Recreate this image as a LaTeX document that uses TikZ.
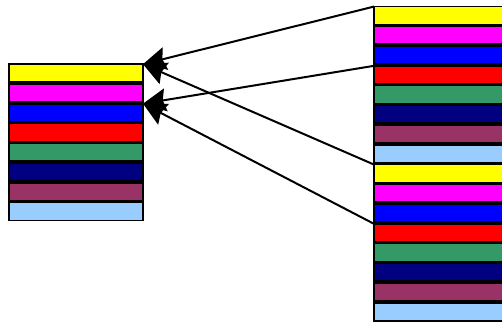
\documentclass[tikz,border=0pt]{standalone}
\usepackage{tikz}
\usetikzlibrary{arrows.meta}
\usepackage{xcolor}
\definecolor{bandyellow}{RGB}{255,255,0}
\definecolor{bandpink}{RGB}{255,0,255}
\definecolor{bandblue}{RGB}{0,0,255}
\definecolor{bandred}{RGB}{255,0,0}
\definecolor{bandgreen}{RGB}{51,153,102}
\definecolor{bandnavy}{RGB}{0,0,128}
\definecolor{bandplum}{RGB}{153,51,102}
\definecolor{bandsky}{RGB}{153,204,255}
\newcommand{\rowpitch}{19.75}

\begin{document}
\begin{tikzpicture}[x=1pt,y=-1pt]
                \useasboundingbox (0,0) rectangle (502,322);
                \clip (0,0) rectangle (502,322);

                \begin{scope}[every node/.style={rectangle,draw=black,line width=1.7pt,
                    minimum width=134pt,minimum height=18pt,inner sep=0pt,outer sep=0pt}]
                    % left stack
                    \foreach \c [count=\i] in {bandyellow,bandpink,bandblue,bandred,bandgreen,bandnavy,bandplum,bandsky}
                        \node[fill=\c] (L\i) at (76,{63.3+\rowpitch*(\i-0.5)}) {};
                    % upper right stack
                    \foreach \c [count=\i] in {bandyellow,bandpink,bandblue,bandred,bandgreen,bandnavy,bandplum,bandsky}
                        \node[fill=\c] (A\i) at (441,{5.7+\rowpitch*(\i-0.5)}) {};
                    % lower right stack
                    \foreach \c [count=\i] in {bandyellow,bandpink,bandblue,bandred,bandgreen,bandnavy,bandplum,bandsky}
                        \node[fill=\c] (B\i) at (441,{163.7+\rowpitch*(\i-0.5)}) {};
                \end{scope}

                \begin{scope}[>={Stealth[length=23pt,width=23pt,inset=3pt]},
                    every edge/.style={draw=black,line width=2pt}]
                    \path [->] (A1.north west) edge (L1.north east);
                    \path [->] (B1.north west) edge (L1.north east);
                    \path [->] (A4.north west) edge (L3.north east);
                    \path [->] (B4.north west) edge (L3.north east);
                \end{scope}
            \end{tikzpicture}
\end{document}
